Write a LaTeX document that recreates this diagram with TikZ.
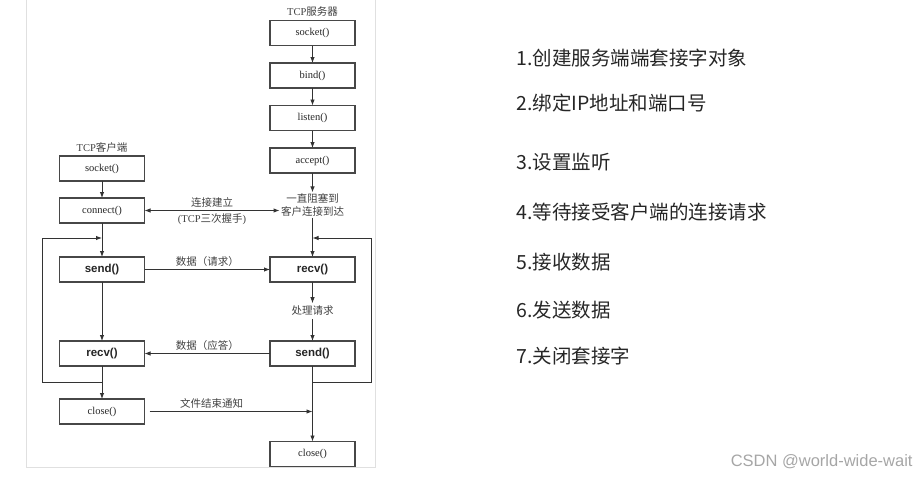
\documentclass[tikz,border=0pt]{standalone}
\usepackage{fontspec}
\setmainfont{Liberation Serif}
\newfontfamily\cjk{Noto Sans CJK SC}
\newfontfamily\arial{Liberation Sans}
\usetikzlibrary{positioning}
\usetikzlibrary{arrows.meta}
\def\call#1{{\arial\bfseries\fontsize{11.5}{13}\selectfont #1}}
\def\zh#1{{\cjk #1}}

\begin{document}
\begin{tikzpicture}[x=1pt,y=-1pt,>={Latex[length=6pt,width=4.5pt]},font=\fontsize{10.5}{12.5}\selectfont,line width=0.9pt,draw=black!80,
	callbox/.style={minimum width=85pt,minimum height=25pt,outer sep=0pt,draw=black!72,line width=1.3pt,fill=white,text=black!85},
	note/.style={text=black!75,inner sep=2.5pt,align=center},
	item/.style={anchor=west,inner sep=0pt,text=black!85,font=\fontsize{19.5}{23}\selectfont\cjk}]
	\useasboundingbox (0,0) rectangle (916,477);
	\draw [black!12,line width=0.8pt] (26,0) -- (26,467) -- (375,467) -- (375,0);

	% server side
	\node [note] at (312.5,12) (stitle) {TCP\zh{服务器}};
	\node [callbox] at (312.5,33) (ssock) {socket()};
	\node [callbox,below=17.5pt of ssock] (sbind) {bind()};
	\node [callbox,below=17.5pt of sbind] (slisten) {listen()};
	\node [callbox,below=17.5pt of slisten] (saccept) {accept()};
	\node [note,inner sep=1pt] at (312.5,205) (swait) {\zh{一直阻塞到}\\\zh{客户连接到达}};
	\node [callbox] at (312.5,269.5) (srecv) {\call{recv()}};
	\node [note] at (312.5,311) (sproc) {\zh{处理请求}};
	\node [callbox] at (312.5,353.5) (ssend) {\call{send()}};
	\node [callbox] at (312.5,454) (sclose) {close()};

	% client side
	\node [note] at (102,147) (ctitle) {TCP\zh{客户端}};
	\node [callbox] at (102,168.5) (csock) {socket()};
	\node [callbox,below=17pt of csock] (cconn) {connect()};
	\node [callbox] at (102,269.5) (csend) {\call{send()}};
	\node [callbox] at (102,353.5) (crecv) {\call{recv()}};
	\node [callbox] at (102,411.5) (cclose) {close()};

	\draw [->] (ssock) -- (sbind);
	\draw [->] (sbind) -- (slisten);
	\draw [->] (slisten) -- (saccept);
	\draw [->] (saccept) -- (swait);
	\draw [->] (swait) -- (srecv);
	\draw [->] (srecv) -- (sproc);
	\draw [->] (sproc) -- (ssend);
	\draw [->] (ssend) -- (sclose);

	\draw [->] (csock) -- (cconn);
	\draw [->] (cconn) -- (csend);
	\draw [->] (csend) -- (crecv);
	\draw [->] (crecv) -- (cclose);

	\draw [<->] (cconn.east) -- (cconn.east -| swait.west)
		node [note,above,midway] {\zh{连接建立}}
		node [note,below,midway] {(TCP\zh{三次握手})};
	\draw [->] (csend) -- (srecv) node [note,above,midway] {\zh{数据（请求）}};
	\draw [->] (ssend) -- (crecv) node [note,above,midway] {\zh{数据（应答）}};
	\draw [->,shorten <=5pt] (cclose.east) -- (cclose.east -| sclose.north) node [note,above,pos=0.4] {\zh{文件结束通知}};

	% loops
	\coordinate (sbot) at (371,382);
	\coordinate (stop) at (371,238);
	\draw [->] (ssend.south |- sbot) -- (sbot) -- (stop) -- (stop -| srecv.north);
	\coordinate (cbot) at (42,382);
	\coordinate (ctop) at (42,238);
	\draw [->] (crecv.south |- cbot) -- (cbot) -- (ctop) -- (ctop -| csend.north);

	% steps
	\node [item] at (516,58) (st1) {1.创建服务端端套接字对象};
	\node [item] at (516,103) (st2) {2.绑定IP地址和端口号};
	\node [item] at (516,162) (st3) {3.设置监听};
	\node [item] at (516,212) (st4) {4.等待接受客户端的连接请求};
	\node [item] at (516,262) (st5) {5.接收数据};
	\node [item] at (516,310) (st6) {6.发送数据};
	\node [item] at (516,356) (st7) {7.关闭套接字};

	\node [anchor=east,inner sep=0pt,text=black!35,font=\arial\fontsize{16.5}{19}\selectfont] at (913,462) (mark) {CSDN @world-wide-wait};
\end{tikzpicture}
\end{document}
